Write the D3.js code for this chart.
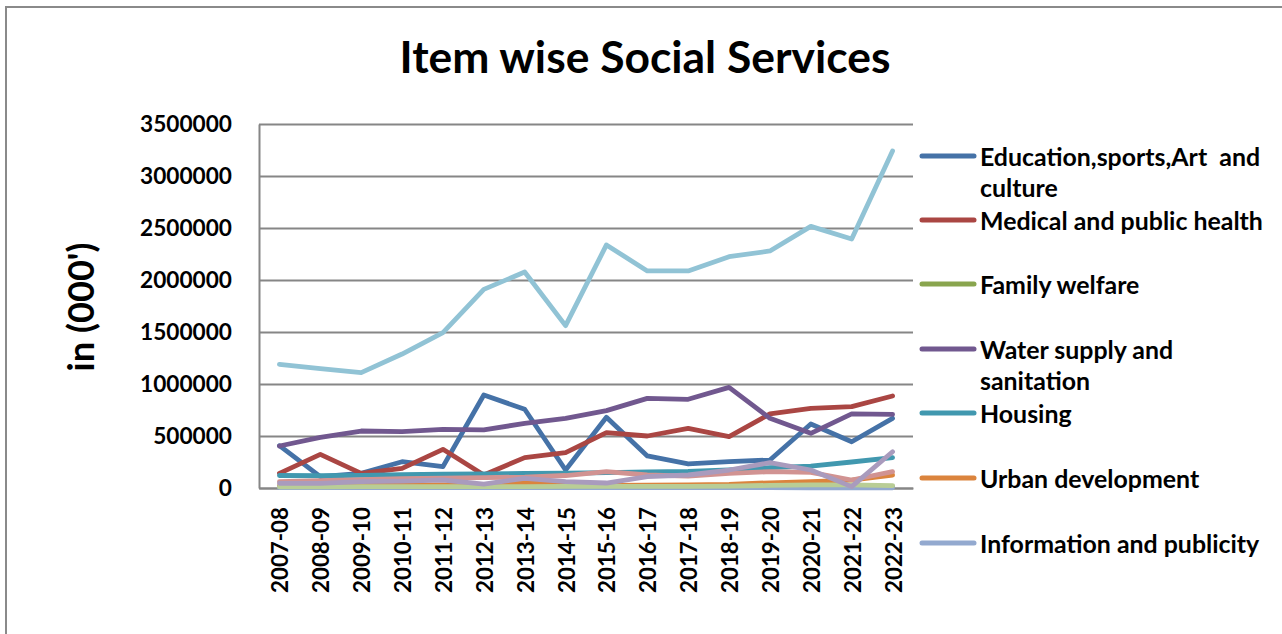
<!DOCTYPE html>
<html>
<head>
<meta charset="utf-8">
<script src="https://cdn.jsdelivr.net/npm/d3@7"></script>
<style>
  html, body { margin: 0; padding: 0; background: #fff; }
  svg { display: block; }
  text { font-family: Lato, "Open Sans", sans-serif; font-weight: 700; fill: #000; }
</style>
</head>
<body>
<svg id="chart" width="1282" height="634"></svg>
<script>
// Fiscal years on the x axis
const years = ["2007-08","2008-09","2009-10","2010-11","2011-12","2012-13","2013-14","2014-15",
               "2015-16","2016-17","2017-18","2018-19","2019-20","2020-21","2021-22","2022-23"];

// Expenditure by item, in thousands
const education = [407000,109000,141000,253000,205000,894000,757000,173000,680000,308000,231000,253000,269000,615000,445000,670000];
const medical   = [141000,324000,141000,189000,372000,125000,292000,340000,532000,500000,574000,494000,712000,766000,782000,885000];
const family    = [8000,8000,9000,9000,10000,10000,11000,11000,12000,12000,13000,13000,14000,15000,15000,16000];
const water     = [404000,487000,548000,542000,564000,558000,622000,670000,744000,862000,853000,968000,670000,526000,712000,708000];
const housing   = [120000,118000,122000,128000,132000,135000,140000,142000,148000,155000,160000,175000,195000,210000,250000,292000];
const urban     = [20000,22000,25000,28000,30000,32000,48000,35000,25000,28000,30000,35000,50000,60000,75000,125000];
const info      = [3000,3000,3000,3000,4000,4000,4000,4000,4000,4000,4000,4000,3000,2000,2000,2000];
const welfareSC = [60000,70000,80000,90000,95000,100000,105000,120000,157000,125000,115000,141000,157000,150000,77000,157000];
const labour    = [12000,12000,13000,13000,13000,14000,14000,15000,15000,15000,16000,18000,25000,30000,30000,22000];
const socialWelfare = [45000,45000,61000,67000,77000,38000,93000,61000,48000,109000,125000,173000,243000,173000,13000,349000];
const others    = [1189000,1147000,1109000,1288000,1494000,1910000,2077000,1561000,2337000,2087000,2087000,2224000,2279000,2516000,2394000,3240000];

// Series names and colours, in drawing order
const seriesNames = ["Education,sports,Art  and culture","Medical and public health","Family welfare",
  "Water supply and sanitation","Housing","Urban development","Information and publicity",
  "Welfare of SC, ST and OBC","Labour and employment","Social welfare and nutrition","Other social services"];
const seriesValues = [education, medical, family, water, housing, urban, info, welfareSC, labour, socialWelfare, others];
const seriesColors = ["#4572A7","#AA4643","#89A54E","#71588F","#4198AF","#DB843D","#93A9CF",
                      "#D19392","#B9CD96","#A99BBD","#91C3D5"];

// Legend entries shown (the box only has room for the first seven), with wrapped lines
const legendLines = [
  ["Education,sports,Art  and", "culture"],
  ["Medical and public health"],
  ["Family welfare"],
  ["Water supply and", "sanitation"],
  ["Housing"],
  ["Urban development"],
  ["Information and publicity"]
];

const yTicks = [0,500000,1000000,1500000,2000000,2500000,3000000,3500000];

const svg = d3.select("#chart");

// Outer chart frame
svg.append("rect")
  .attr("x", 6).attr("y", 7).attr("width", 1300).attr("height", 700)
  .attr("fill", "#fff").attr("stroke", "#8a8a8a").attr("stroke-width", 2);

const plot = { left: 259, right: 913, top: 124, bottom: 488 };

const x = d3.scalePoint().domain(years).range([plot.left, plot.right]).padding(0.5);
const y = d3.scaleLinear().domain([0, 3500000]).range([plot.bottom, plot.top]);

// Fit a text's font size so it spans the given width
function fitSize(sel, width) {
  const w = sel.node().getComputedTextLength();
  const fs = parseFloat(sel.attr("font-size"));
  return fs * width / w;
}

// Horizontal gridlines
const grid = svg.append("g")
  .attr("transform", `translate(${plot.left},0)`)
  .call(d3.axisLeft(y).tickValues(yTicks).tickSize(-(plot.right - plot.left)).tickFormat(""));
grid.select(".domain").remove();
grid.selectAll(".tick line").attr("stroke", "#868686").attr("stroke-width", 2);

// Y axis line and labels
const yAxis = svg.append("g")
  .attr("transform", `translate(${plot.left},0)`)
  .call(d3.axisLeft(y).tickValues(yTicks).tickSize(0).tickPadding(27).tickFormat(d3.format("d")));
yAxis.select(".domain").attr("stroke", "#868686").attr("stroke-width", 2);
yAxis.selectAll("text").attr("font-size", 20).attr("font-family", null).attr("fill", "#000");
{
  const probe = yAxis.selectAll("text").filter(d => d === 3500000);
  const fs = fitSize(probe, 92);
  yAxis.selectAll("text").attr("font-size", fs);
}

// X axis line and rotated labels
const xAxis = svg.append("g")
  .attr("transform", `translate(0,${plot.bottom})`)
  .call(d3.axisBottom(x).tickSize(0).tickPadding(0));
xAxis.select(".domain").attr("stroke", "#868686").attr("stroke-width", 2);
xAxis.selectAll("text")
  .attr("font-size", 20).attr("font-family", null).attr("fill", "#000")
  .attr("text-anchor", "end").attr("dy", null).attr("y", 0).attr("x", 0)
  .attr("dominant-baseline", "central")
  .attr("transform", "translate(0,19) rotate(-90)");
{
  const probe = xAxis.selectAll("text").filter((d, i) => i === 0);
  const fs = fitSize(probe, 86);
  xAxis.selectAll("text").attr("font-size", fs);
}

// Series lines
const line = d3.line().x((d, i) => x(years[i])).y(d => y(d));
svg.append("g").selectAll("path")
  .data(seriesValues)
  .join("path")
  .attr("d", line)
  .attr("fill", "none")
  .attr("stroke", (d, i) => seriesColors[i])
  .attr("stroke-width", 4.8)
  .attr("stroke-linejoin", "round")
  .attr("stroke-linecap", "round");

// Title
const title = svg.append("text")
  .attr("x", 645).attr("y", 73)
  .attr("text-anchor", "middle")
  .attr("font-size", 40)
  .text("Item wise Social Services");
title.attr("font-size", fitSize(title, 491));

// Y axis title
const yTitle = svg.append("text")
  .attr("transform", "translate(80,307) rotate(-90)")
  .attr("text-anchor", "middle")
  .attr("dominant-baseline", "central")
  .attr("font-size", 28)
  .text("in (000')");
yTitle.attr("font-size", fitSize(yTitle, 129));

// Legend
const legendY = [156, 220, 284, 349, 413, 478, 543];
const legend = svg.append("g");
let legendFont = 21;
{
  const probe = legend.append("text").attr("font-size", 21).text(legendLines[1][0]);
  legendFont = fitSize(probe, 283);
  probe.remove();
}
legendLines.forEach((lines, i) => {
  const g = legend.append("g").attr("transform", `translate(0,${legendY[i]})`);
  g.append("line")
    .attr("x1", 922).attr("x2", 974).attr("y1", 0).attr("y2", 0)
    .attr("stroke", seriesColors[i]).attr("stroke-width", 5).attr("stroke-linecap", "round");
  lines.forEach((t, j) => {
    g.append("text")
      .attr("x", 980).attr("y", j * 31)
      .attr("dominant-baseline", "central")
      .attr("font-size", legendFont)
      .style("white-space", "pre")
      .text(t);
  });
});
</script>
</body>
</html>
